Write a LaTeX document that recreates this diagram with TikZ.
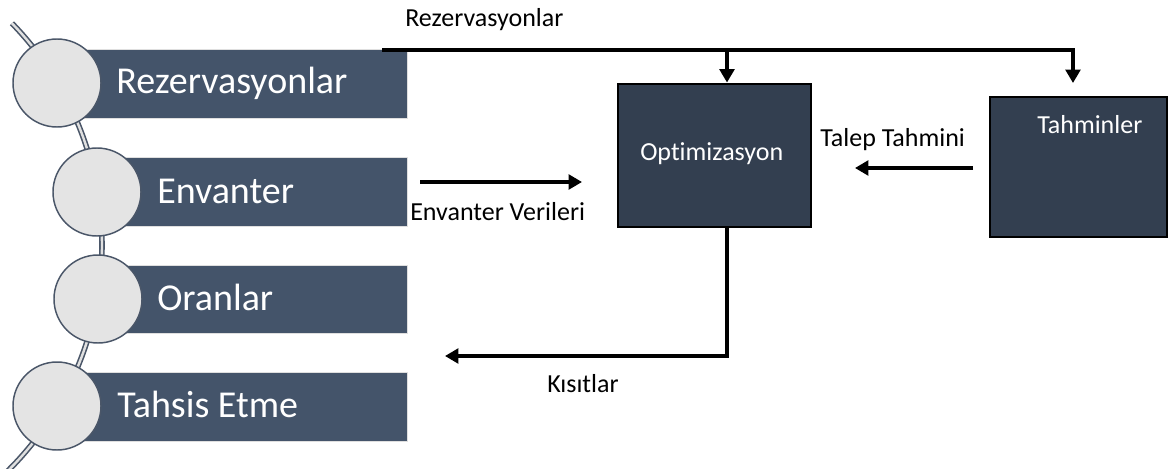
\documentclass[tikz,border=0pt]{standalone}
\usepackage{fontspec}
\setmainfont[Ligatures={NoCommon}]{Carlito}
\usetikzlibrary{arrows.meta}
\definecolor{barblue}{HTML}{44546A}
\definecolor{boxfill}{HTML}{333F50}
\definecolor{circfill}{HTML}{E4E4E4}
\definecolor{circdraw}{HTML}{4A5668}
\definecolor{chain}{HTML}{E0E0E0}
\begin{document}
\begin{tikzpicture}[x=0.75pt,y=-0.75pt,
  bar/.style={fill=barblue, draw=gray!25, line width=0.6pt},
  bead/.style={circle, fill=circfill, draw=circdraw, line width=1.1pt, minimum size=66pt, inner sep=0pt},
  bartext/.style={anchor=base west, text=white, font=\fontsize{28.5}{32}\selectfont, inner sep=0pt},
  lbl/.style={anchor=base west, text=black, font=\fontsize{19.5}{22}\selectfont, inner sep=0pt},
  boxtext/.style={anchor=base west, text=white, font=\fontsize{19.5}{22}\selectfont, inner sep=0pt},
  procbox/.style={draw=black, fill=boxfill, line width=2.2pt, inner sep=0pt},
  flow/.style={draw=black, line width=2.4pt, -{Triangle[length=10pt,width=11pt]}},
  plain/.style={draw=black, line width=2.4pt}]
\useasboundingbox (0,0) rectangle (1168,468);
% chain arc
\draw[draw=circdraw, line width=4.2pt] (-216,245) ++(-44.2:318) arc[start angle=-44.2, end angle=47, radius=318];
\draw[draw=chain, line width=1.8pt] (-216,245) ++(-44.2:318) arc[start angle=-44.2, end angle=47, radius=318];
% bars
\path[bar] (57,49) rectangle (407,118);
\path[bar] (97,157) rectangle (407,226);
\path[bar] (98,265) rectangle (407,333);
\path[bar] (57,372) rectangle (407,441);
% beads
\node[bead] (c1) at (57,83) {};
\node[bead] (c2) at (97,192) {};
\node[bead] (c3) at (98,299) {};
\node[bead] (c4) at (57,406) {};
% bar texts
\node[bartext] (t1) at (116,93) {Rezervasyonlar};
\node[bartext] (t2) at (157,203) {Envanter};
\node[bartext] (t3) at (157,310) {Oranlar};
\node[bartext] (t4) at (117,417) {Tahsis Etme};
% process boxes
\node[procbox, minimum width=144.75pt, minimum height=107.25pt] (opt) at (714.5,155.5) {};
\node[boxtext] (optt) at (640,160) {Optimizasyon};
\node[procbox, minimum width=132.75pt, minimum height=105pt] (tah) at (1078.5,167) {};
\node[boxtext] (taht) at (1037,133) {Tahminler};
% connectors
\coordinate (rs) at (382,50);
\coordinate (rtip) at (1073,83);
\coordinate (rj) at (727,50);
\draw[flow] (rs) -| (rtip);
\draw[flow] (rj) -- (rj |- opt.north);
\node[lbl] (rl) at (405,26.5) {Rezervasyonlar};
\coordinate (ev1) at (420,182);
\coordinate (ev2) at (582,182);
\draw[flow] (ev1) -- (ev2);
\node[lbl] (evl) at (410,220) {Envanter Verileri};
\coordinate (tt1) at (973,168);
\coordinate (tt2) at (855,168);
\draw[flow] (tt1) -- (tt2);
\node[lbl] (ttl) at (820,146) {Talep Tahmini};
\coordinate (kt) at (445,356);
\draw[flow] (opt.south -| rj) |- (kt);
\node[lbl] (kl) at (547,392) {Kısıtlar};
\end{tikzpicture}
\end{document}
